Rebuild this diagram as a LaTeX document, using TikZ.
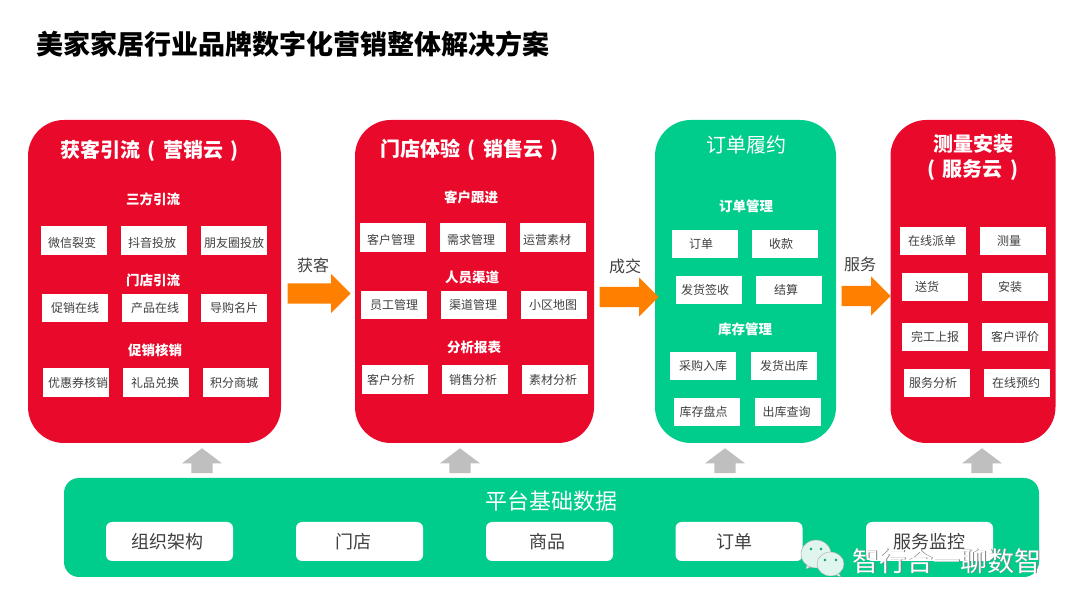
\documentclass[tikz,border=0pt]{standalone}
\usepackage{fontspec}
\setmainfont{Noto Sans CJK SC}
\usetikzlibrary{shapes.arrows}
\definecolor{cloudred}{HTML}{E8092B}
\definecolor{cloudgreen}{HTML}{00CC8C}
\definecolor{floworange}{HTML}{FF7F00}
\definecolor{upgrey}{HTML}{BFBFBF}
\definecolor{itemtext}{HTML}{404040}
\definecolor{markmint}{HTML}{E0F5EE}
\newcommand{\panelopen}{\makebox[23pt]{(}}
\newcommand{\panelclose}{\makebox[23pt]{)}}
\tikzset{
  redpanel/.style={fill=cloudred, rounded corners=36pt, minimum width=#1, minimum height=323pt, inner sep=0pt},
  greenpanel/.style={fill=cloudgreen, rounded corners=36pt, minimum width=#1, minimum height=323pt, inner sep=0pt},
  paneltitle/.style={text=white, font=\fontsize{20}{25}\selectfont\bfseries, align=center},
  grouphead/.style={text=white, font=\fontsize{13.5}{15}\selectfont\bfseries},
  itembox/.style={fill=white, text=itemtext, font=\fontsize{12}{14}\selectfont, minimum width=66pt, minimum height=28.5pt, inner sep=0pt, text height=11.5pt, text depth=1.5pt},
  lowitem/.style={itembox, text height=14pt, text depth=0pt},
  basebox/.style={fill=white, rounded corners=6pt, text=itemtext, font=\fontsize{18}{20}\selectfont, minimum width=127pt, minimum height=39pt, inner sep=0pt},
  flowarrow/.style={fill=floworange, single arrow, inner xsep=0pt, inner ysep=10pt, single arrow head extend=9.5pt, minimum height=#1, anchor=tip},
  uparrow/.style={fill=upgrey, single arrow, shape border rotate=90, single arrow tip angle=106, inner ysep=0pt, inner xsep=10.5pt, single arrow head extend=9.5pt, minimum height=25pt, anchor=tip},
  flowlabel/.style={text=itemtext, font=\fontsize{16}{18}\selectfont},
  markbubble/.style={fill=markmint, draw=gray!70, line width=0.4pt},
  markeye/.style={fill=cloudgreen!80!black},
}
\begin{document}
\begin{tikzpicture}[x=1pt,y=-1pt]
\useasboundingbox (0,0) rectangle (1080,609);
\node[anchor=west, font=\fontsize{27}{30}\selectfont\bfseries, text=black] (title) at (33,44) {美家家居行业品牌数字化营销整体解决方案};

% panels
\node[redpanel=253pt] (acquire) at (154.5,281.5) {};
\node[redpanel=239pt] (store) at (474.5,281.5) {};
\node[greenpanel=181pt] (order) at (745.5,281.5) {};
\node[redpanel=165pt] (service) at (973,281.5) {};
\node[fill=cloudgreen, rounded corners=15pt, minimum width=975pt, minimum height=99pt, inner sep=0pt] (base) at (551.5,527.5) {};

% first panel
\node[paneltitle] (acquiretitle) at (153,151) {获客引流\panelopen 营销云\panelclose};
\node[grouphead] (head1) at (153,199) {三方引流};
\node[lowitem] (a1) at (74,240.5) {微信裂变\kern4pt};
\node[lowitem] (a2) at (154,240.5) {抖音投放\kern4pt};
\node[lowitem] (a3) at (234,240.5) {朋友圈投放};
\node[grouphead] (head2) at (153,280) {门店引流};
\node[itembox] (a4) at (75,308) {促销在线};
\node[itembox] (a5) at (155,308) {产品在线};
\node[itembox] (a6) at (234,308) {导购名片};
\node[grouphead] (head3) at (155,350) {促销核销};
\node[itembox] (a7) at (76,382.5) {\kern4pt优惠券核销};
\node[itembox] (a8) at (156,382.5) {礼品兑换\kern2pt};
\node[itembox] (a9) at (236,382.5) {积分商城\kern4pt};

% second panel
\node[paneltitle] (storetitle) at (473,150) {门店体验\panelopen 销售云\panelclose};
\node[grouphead] (head4) at (471,197) {客户跟进};
\node[lowitem] (b1) at (393,237.5) {客户管理\kern4pt};
\node[lowitem] (b2) at (473,237.5) {需求管理\kern4pt};
\node[lowitem] (b3) at (553,237.5) {运营素材\kern12pt};
\node[grouphead] (head5) at (472,277) {人员渠道};
\node[itembox] (b4) at (394,305) {员工管理};
\node[itembox] (b5) at (474,305) {渠道管理\kern2pt};
\node[itembox] (b6) at (554,305) {小区地图\kern2pt};
\node[grouphead] (head6) at (474,347) {分析报表};
\node[itembox] (b7) at (395,379.5) {客户分析\kern8pt};
\node[itembox] (b8) at (475,379.5) {销售分析\kern4pt};
\node[itembox] (b9) at (555,379.5) {素材分析\kern4pt};

% third panel
\node[paneltitle, font=\fontsize{20}{25}\selectfont] (ordertitle) at (746,145) {订单履约};
\node[grouphead] (head7) at (746,206) {订单管理};
\node[itembox] (c1) at (705,244) {订单\kern8pt};
\node[itembox] (c2) at (785,244) {收款\kern8pt};
\node[itembox] (c3) at (709,290) {发货签收\kern8pt};
\node[itembox] (c4) at (789,290) {结算\kern6pt};
\node[grouphead] (head8) at (745,329) {库存管理};
\node[itembox] (c5) at (703,366) {采购入库};
\node[itembox] (c6) at (784,366) {发货出库};
\node[itembox] (c7) at (707,412) {库存盘点\kern7pt};
\node[itembox] (c8) at (788,412) {出库查询\kern3pt};

% fourth panel
\node[paneltitle] (servicetitle) at (973,157) {测量安装\\\panelopen 服务云\panelclose};
\node[itembox] (d1) at (933,241) {在线派单\kern2pt};
\node[itembox] (d2) at (1013,241) {测量\kern8pt};
\node[itembox] (d3) at (935,287) {送货\kern16pt};
\node[itembox] (d4) at (1015,287) {安装\kern10pt};
\node[itembox] (d5) at (935,337) {完工上报};
\node[itembox] (d6) at (1015,337) {客户评价};
\node[itembox] (d7) at (937,383) {服务分析\kern8pt};
\node[itembox] (d8) at (1017,383) {在线预约\kern2pt};

% flow between panels
\node[flowarrow=63pt] (flow1) at (351,293.5) {};
\node[flowarrow=59pt] (flow2) at (659,297) {};
\node[flowarrow=49pt] (flow3) at (891,296) {};
\node[flowlabel] (label1) at (313,265) {获客};
\node[flowlabel] (label2) at (625,266) {成交};
\node[flowlabel] (label3) at (860,264) {服务};

% base data
\node[uparrow] (up1) at (202,448) {};
\node[uparrow] (up2) at (460,448) {};
\node[uparrow] (up3) at (725,448) {};
\node[uparrow] (up4) at (982,448) {};
\node[text=white, font=\fontsize{22}{24}\selectfont] (basetitle) at (551,501) {平台基础数据};
\node[basebox] (e1) at (169.5,541.5) {组织架构\kern4pt};
\node[basebox] (e2) at (359.5,541.5) {门店\kern13pt};
\node[basebox] (e3) at (549.5,541.5) {商品\kern5pt};
\node[basebox] (e4) at (739,541.5) {订单\kern10pt};
\node[basebox] (e5) at (929.5,541.5) {服务监控};

% mark
\draw[markbubble] (807,563) -- (806,569) -- (813,566) -- cycle;
\draw[markbubble] (816,554) ellipse (15pt and 14pt);
\fill[markeye] (811,549) circle (1.3pt) (821,549) circle (1.3pt);
\draw[markbubble] (838,572) -- (841,577) -- (833,574) -- cycle;
\draw[markbubble] (830.5,564) ellipse (13.5pt and 12pt);
\fill[markeye] (825,560) circle (1.3pt) (836,560) circle (1.3pt);
\node[text=gray, font=\fontsize{27}{30}\selectfont] (markshadow) at (947.5,561.5) {智行合一聊数智};
\node[text=white, font=\fontsize{27}{30}\selectfont] (marktext) at (947,561) {智行合一聊数智};
\end{tikzpicture}
\end{document}
